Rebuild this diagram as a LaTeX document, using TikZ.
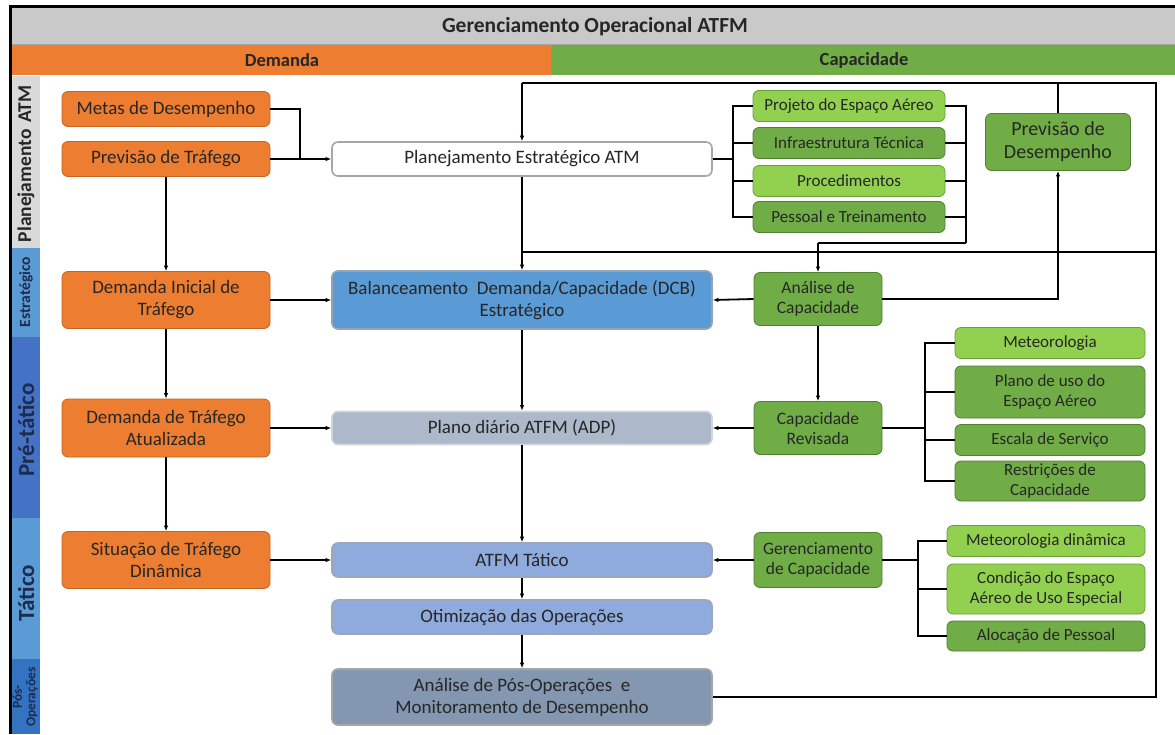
\documentclass[tikz,border=0pt]{standalone}
\usepackage{fontspec}
\setmainfont{Carlito}
\usetikzlibrary{arrows.meta}

\definecolor{orng}{HTML}{ED7D31}
\definecolor{orngb}{HTML}{C5651F}
\definecolor{grn}{HTML}{70AD47}
\definecolor{grnb}{HTML}{4F7F31}
\definecolor{lgrn}{HTML}{92D050}
\definecolor{lgrnb}{HTML}{6A9E3A}
\definecolor{hdrgray}{HTML}{C9C9C9}
\definecolor{txt}{HTML}{262626}
\definecolor{stripgray}{HTML}{D9D9D9}
\definecolor{stripltblue}{HTML}{5B9BD5}
\definecolor{stripblue}{HTML}{4472C4}
\definecolor{strippos}{HTML}{3473C2}
\definecolor{navy}{HTML}{1C2B4E}
\definecolor{dcbfill}{HTML}{5B9BD5}
\definecolor{adpfill}{HTML}{ADB9CA}
\definecolor{takfill}{HTML}{8FAADC}
\definecolor{posfill}{HTML}{8497B0}
\definecolor{cborder}{HTML}{A6A6A6}

\tikzset{
  x=1pt, y=-1pt,
  box/.style={rounded corners=6pt, draw, line width=0.8pt, align=center, inner sep=0pt, text=txt},
  obox/.style={box, fill=orng, draw=orngb, minimum width=208pt, font=\fontsize{19}{22}\selectfont},
  cbox/.style={box, minimum width=380pt, line width=1.6pt, font=\fontsize{19}{22}\selectfont},
  gbox/.style={box, fill=grn, draw=grnb, font=\fontsize{17}{20}\selectfont},
  lgbox/.style={box, fill=lgrn, draw=lgrnb, font=\fontsize{17}{20}\selectfont},
  ln/.style={line width=1.8pt, draw=black},
  arr/.style={ln, -{Latex[length=5.5pt,width=4.5pt]}},
  striplabel/.style={rotate=90, font=\bfseries\fontsize{19.5}{21}\selectfont, align=center, inner sep=0pt},
}

\begin{document}
\begin{tikzpicture}
\useasboundingbox (0,0) rectangle (1175,734);
\fill[white] (0,0) rectangle (1175,734);

% header bands
\fill[hdrgray] (12,8) rectangle (1175,44);
\draw[line width=0.6pt, draw=gray!70] (12,44) -- (1175,44);
\node[font=\bfseries\fontsize{21.5}{24}\selectfont, text=txt] (title) at (595,27) {Gerenciamento Operacional ATFM};
\fill[orng] (12,45) rectangle (551,75);
\fill[grn] (551,45) rectangle (1175,75);
\node[font=\bfseries\fontsize{18.5}{20}\selectfont, text=txt] (dem) at (282,60) {Demanda};
\node[font=\bfseries\fontsize{18.5}{20}\selectfont, text=txt] (cap) at (864,60) {Capacidade};

% left strips
\fill[stripgray] (12,76) rectangle (40,248);
\fill[stripltblue] (12,248) rectangle (40,337);
\fill[stripblue] (12,337) rectangle (40,518);
\fill[stripltblue] (12,518) rectangle (40,659);
\fill[strippos] (12,659) rectangle (40,734);
\node[striplabel, text=txt] (s1) at (26,164) {Planejamento\,\,ATM};
\node[striplabel, text=navy, font=\bfseries\fontsize{15.5}{17}\selectfont] (s2) at (26,292) {Estratégico};
\node[striplabel, text=navy, font=\bfseries\fontsize{23}{25}\selectfont] (s3) at (26,430) {Pré-tático};
\node[striplabel, text=navy, font=\bfseries\fontsize{23}{25}\selectfont] (s4) at (26,593) {Tático};
\node[striplabel, text=navy, font=\bfseries\fontsize{13.5}{13.5}\selectfont] (s5) at (25,697) {Pós-\\Operações};

% frame
\draw[line width=3pt] (10.5,5) -- (10.5,734);
\draw[line width=3pt] (9,6.5) -- (1175,6.5);

% demand column
\node[obox, minimum height=35pt] (metas) at (166,109) {Metas de Desempenho};
\node[obox, minimum height=35pt] (prevt) at (166,159) {Previsão de Tráfego};
\node[obox, minimum height=57pt] (dinic) at (166,300) {Demanda Inicial de\\Tráfego};
\node[obox, minimum height=58pt] (datu) at (166,428) {Demanda de Tráfego\\Atualizada};
\node[obox, minimum height=57pt] (sit) at (166,560) {Situação de Tráfego\\Dinâmica};

% center column
\node[cbox, fill=white, draw=cborder, minimum height=34pt] (pe) at (522,159) {Planejamento Estratégico ATM};
\node[cbox, fill=dcbfill, draw=cborder!80!dcbfill, minimum height=58pt] (dcb) at (522,300) {Balanceamento\ \ Demanda/Capacidade\ (DCB)\\Estratégico};
\node[cbox, fill=adpfill, draw=adpfill!60!white, minimum height=33pt] (adp) at (522,428) {Plano diário ATFM (ADP)};
\node[cbox, fill=takfill, draw=cborder!70!takfill, minimum height=34pt] (tat) at (522,560) {ATFM Tático};
\node[cbox, fill=takfill, draw=cborder!70!takfill, minimum height=34pt] (otim) at (522,617) {Otimização das Operações};
\node[cbox, fill=posfill, draw=cborder, minimum height=56pt] (pos) at (522,697) {Análise de Pós-Operações\ \ e\\Monitoramento de Desempenho};

% capacity column
\node[lgbox, minimum width=192pt, minimum height=31pt] (proj) at (849,106) {Projeto do Espaço Aéreo};
\node[gbox, minimum width=192pt, minimum height=31pt] (infra) at (849,143) {Infraestrutura Técnica};
\node[lgbox, minimum width=192pt, minimum height=31pt] (proc) at (849,181) {Procedimentos};
\node[gbox, minimum width=192pt, minimum height=31pt] (pess) at (849,217) {Pessoal e Treinamento};
\node[gbox, minimum width=145pt, minimum height=57pt, font=\fontsize{20}{23}\selectfont] (prevd) at (1058,142) {Previsão de\\Desempenho};

\node[gbox, minimum width=128pt, minimum height=53pt, font=\fontsize{17.5}{20}\selectfont] (anc) at (818,299) {Análise de\\Capacidade};
\node[gbox, minimum width=128pt, minimum height=53pt, font=\fontsize{17.5}{20}\selectfont] (crev) at (818,428) {Capacidade\\Revisada};
\node[gbox, minimum width=128pt, minimum height=55pt, font=\fontsize{17.5}{20}\selectfont] (gcap) at (818,560) {Gerenciamento\\de Capacidade};

\node[lgbox, minimum width=190pt, minimum height=31pt] (met) at (1050,343) {Meteorologia};
\node[gbox, minimum width=190pt, minimum height=52pt] (plano) at (1050,392) {Plano de uso do\\Espaço Aéreo};
\node[gbox, minimum width=190pt, minimum height=31pt] (esc) at (1050,440) {Escala de Serviço};
\node[gbox, minimum width=190pt, minimum height=40pt] (restr) at (1050,481) {Restrições de\\Capacidade};

\node[lgbox, minimum width=198pt, minimum height=31pt] (metd) at (1046,541) {Meteorologia dinâmica};
\node[lgbox, minimum width=198pt, minimum height=50pt] (cond) at (1046,589) {Condição do Espaço\\Aéreo de Uso Especial};
\node[gbox, minimum width=198pt, minimum height=30pt] (aloc) at (1046,636) {Alocação de Pessoal};

% coordinates for the loops
\coordinate (tl) at (522,83);
\coordinate (tr) at (1156,83);
\coordinate (ml) at (522,252);
\coordinate (mr) at (1156,252);
\coordinate (j1) at (300,159);
\coordinate (rb) at (966,243);

% demand connectors
\draw[ln] (metas.east) -| (j1);
\draw[arr] (prevt.east) -- (pe.west);
\draw[arr] (prevt.south) -- (dinic.north);
\draw[arr] (dinic.south) -- (datu.north);
\draw[arr] (datu.south) -- (sit.north);
\draw[arr] (dinic.east) -- (dcb.west);
\draw[arr] (datu.east) -- (adp.west);
\draw[arr] (sit.east) -- (tat.west);

% center column connectors
\draw[arr] (pe.south) -- (dcb.north);
\draw[arr] (dcb.south) -- (adp.north);
\draw[arr] (adp.south) -- (tat.north);
\draw[arr] (tat.south) -- (otim.north);
\draw[arr] (otim.south) -- (pos.north);

% feedback loops
\draw[ln] (pos.east) -| (tr) -- (tl);
\draw[arr] (tl) -- (pe.north);
\draw[ln] (ml) -- (mr);
\draw[ln] (prevd.north) -- (prevd.north |- tl);

% planning sub-boxes
\draw[ln] (pe.east) -- (733,159);
\draw[ln] (proj.west) -- ++(-20,0) |- (pess.west);
\draw[ln] (infra.west) -- ++(-20,0);
\draw[ln] (proc.west) -- ++(-20,0);
\draw[ln] (proj.east) -| (rb);
\draw[ln] (infra.east) -- ++(21,0);
\draw[ln] (proc.east) -- ++(21,0);
\draw[ln] (pess.east) -- ++(21,0);
\draw[ln] (rb) -- (rb -| anc.north);
\draw[arr] (rb -| anc.north) -- (anc.north);

% capacity connectors
\draw[arr] (anc.west) -- (dcb.east);
\draw[arr] (anc.east) -| (prevd.south);
\draw[arr] (anc.south) -- (crev.north);
\draw[arr] (crev.west) -- (adp.east);
\draw[arr] (gcap.west) -- (tat.east);

\draw[ln] (crev.east) -- (925,428);
\draw[ln] (met.west) -- ++(-30,0) |- (restr.west);
\draw[ln] (plano.west) -- ++(-30,0);
\draw[ln] (esc.west) -- ++(-30,0);

\draw[ln] (gcap.east) -- (918,560);
\draw[ln] (metd.west) -- ++(-29,0) |- (aloc.west);
\draw[ln] (cond.west) -- ++(-29,0);
\end{tikzpicture}
\end{document}
